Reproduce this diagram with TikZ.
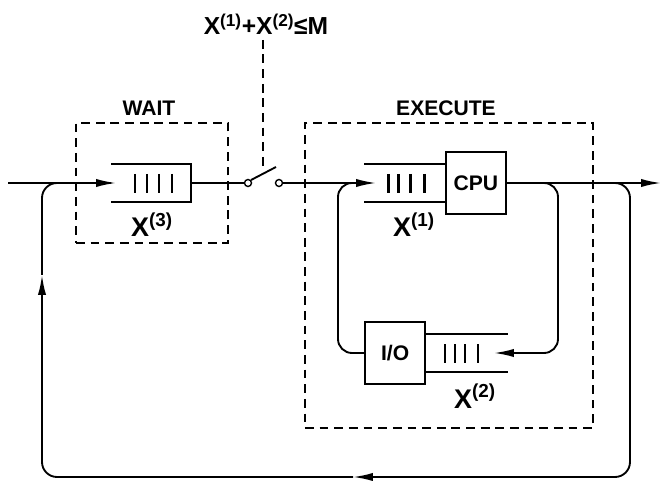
\documentclass[tikz,border=0pt]{standalone}
\usepackage{fontspec}
\setmainfont{Liberation Sans}
\usetikzlibrary{arrows.meta, positioning}

\begin{document}
\begin{tikzpicture}[x=0.03cm, y=-0.03cm, line width=1.6pt,
  every node/.style={font=\fontsize{18}{20}\selectfont\bfseries},
  flow/.style={-{Latex[length=17pt,width=7pt]}},
  dashbox/.style={draw, dash pattern=on 7.5pt off 5pt, line width=1.5pt},
  unit/.style={draw, minimum width=1.8cm, minimum height=1.85cm, inner sep=0pt, font=\fontsize{18}{20}\selectfont\bfseries},
  queue/.style={minimum width=2.37cm, minimum height=1.08cm, inner sep=0pt},
  bar/.style={line width=2pt},
  pin/.style={draw, circle, inner sep=0pt, minimum size=0.21cm, line width=1.2pt},
  var/.style={font=\fontsize{23}{25}\selectfont\bfseries, anchor=base}]
  \useasboundingbox (0,0) rectangle (663,481);

  % dashed regions
  \node[dashbox, minimum width=4.56cm, minimum height=3.6cm] (waitbox) at (152,183) {};
  \node[dashbox, minimum width=8.64cm, minimum height=9.15cm] (execbox) at (449,275.5) {};
  \node[anchor=base] (waitlbl) at (149,116) {WAIT};
  \node[anchor=base] (execlbl) at (446,116) {EXECUTE};

  % wait queue
  \node[queue, minimum width=2.34cm] (q3) at (151,183) {};
  \draw (q3.north west) -- (q3.north east) -- (q3.south east) -- (q3.south west);
  \foreach \dx in {-16,-4,8,21}
    \draw[bar] ([shift={(\dx,-9)}]q3.center) -- ([shift={(\dx,10)}]q3.center);
  \node[var] (x3) at (152,237) {X\textsuperscript{(3)}};

  % cpu queue and server
  \node[queue] (qc) at (404.5,183) {};
  \node[unit, right=0pt of qc] (cpu) {CPU};
  \draw (qc.north west) -- (qc.north east);
  \draw (qc.south west) -- (qc.south east);
  \foreach \dx in {-16,-6,6,20}
    \draw[bar] ([shift={(\dx,-9)}]qc.center) -- ([shift={(\dx,10)}]qc.center);
  \node[var] (x1) at (414,237) {X\textsuperscript{(1)}};

  % i/o queue and server
  \node[queue, minimum width=2.4cm] (qi) at (467,353) {};
  \node[unit, left=0pt of qi] (io) {I/O};
  \draw (qi.north west) -- (qi.north east);
  \draw (qi.south west) -- (qi.south east);
  \foreach \dx in {-22,-12,-2,11}
    \draw[bar] ([shift={(\dx,-9)}]qi.center) -- ([shift={(\dx,10)}]qi.center);
  \node[var] (x2) at (475,408) {X\textsuperscript{(2)}};

  % switch
  \node[pin] (sw1) at (248,183) {};
  \node[pin] (sw2) at (279,183) {};
  \coordinate (lever) at (276,167);
  \coordinate (lv) at (263,171);
  \node[var, font=\fontsize{21}{23}\selectfont\bfseries] (cond) at (266,35) {X\textsuperscript{(1)}+X\textsuperscript{(2)}≤M};
  \draw[dash pattern=on 7.5pt off 5pt, line width=1.5pt] (cond.south -| lv) -- (lv);

  % coordinates of the loops
  \coordinate (in) at (8,183);
  \coordinate (out) at (661,183);
  \coordinate (rt) at (558,183);
  \coordinate (lt) at (338,183);
  \coordinate (ot) at (630,183);
  \coordinate (ob) at (630,477);
  \coordinate (mb) at (353,477);
  \coordinate (lb) at (42,477);
  \coordinate (ml) at (42,275);
  \coordinate (lt2) at (42,183);

  % main flow
  \draw[flow] (in) -- ([xshift=0.15cm]q3.west);
  \draw (q3.east) -- (sw1.west);
  \draw (sw1.north east) -- (lever);
  \draw[flow] (sw2.east) -- ([xshift=0.36cm]qc.west);
  \draw[flow] (cpu.east) -- (out);

  % cpu <-> i/o loop
  \draw[flow, rounded corners=0.42cm] (cpu.east) -- (rt) -- (rt |- qi.east) -- ([xshift=-0.42cm]qi.east);
  \draw[rounded corners=0.42cm] (io.west) -- (lt |- io.west) -- (lt) -- (qc.west);

  % outer feedback loop
  \draw[flow, rounded corners=0.45cm] (cpu.east) -- (ot) -- (ob) -- (mb);
  \draw[flow, rounded corners=0.45cm] (mb) -- (lb) -- (ml);
  \draw[rounded corners=0.45cm] (ml) -- (lt2) -- (q3.west);
\end{tikzpicture}
\end{document}
